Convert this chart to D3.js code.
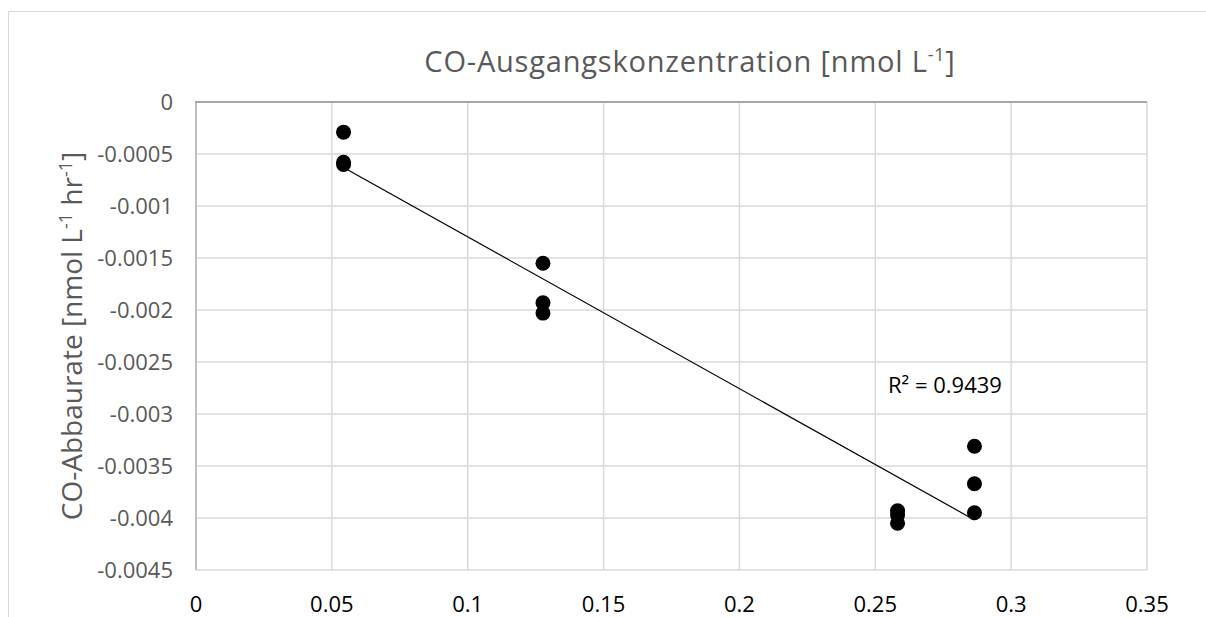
<!DOCTYPE html>
<html>
<head>
    <meta charset="utf-8">
    <title>CO-Abbaurate</title>
    <script src="https://d3js.org/d3.v7.min.js"></script>
    <style>
        body {
            margin: 0;
            background: #ffffff;
            font-family: 'Open Sans', 'Noto Sans', sans-serif;
        }
        svg text {
            font-family: 'Open Sans', 'Noto Sans', sans-serif;
        }
    </style>
</head>
<body>
    <div id="chart"></div>

    <script>
        // measured values (x = Ausgangskonzentration, y = Abbaurate)
        const xValues = [0.0543, 0.0543, 0.0543, 0.1277, 0.1277, 0.1277, 0.2582, 0.2582, 0.2582, 0.2865, 0.2865, 0.2865];
        const yValues = [-0.00029, -0.00058, -0.00060, -0.00155, -0.00193, -0.00203, -0.00393, -0.00397, -0.00405, -0.00331, -0.00367, -0.00395];
        const xTicks = [0, 0.05, 0.1, 0.15, 0.2, 0.25, 0.3, 0.35];
        const yTicks = [0, -0.0005, -0.001, -0.0015, -0.002, -0.0025, -0.003, -0.0035, -0.004, -0.0045];
        const r2Label = 'R² = 0.9439';

        const width = 1206;
        const height = 617;
        const margin = { top: 102, right: 59, bottom: 47, left: 196 };

        const svg = d3.select('#chart')
            .append('svg')
            .attr('width', width)
            .attr('height', height);

        // outer chart border
        svg.append('rect')
            .attr('x', 8.5)
            .attr('y', 11.5)
            .attr('width', 1220)
            .attr('height', 640)
            .attr('fill', 'none')
            .attr('stroke', '#d9d9d9')
            .attr('stroke-width', 1);

        const x = d3.scaleLinear()
            .domain([0, 0.35])
            .range([margin.left, width - margin.right]);

        const y = d3.scaleLinear()
            .domain([-0.0045, 0])
            .range([height - margin.bottom, margin.top]);

        // gridlines
        svg.append('g')
            .selectAll('line')
            .data(xTicks.slice(1))
            .enter().append('line')
            .attr('x1', d => x(d)).attr('x2', d => x(d))
            .attr('y1', y(0)).attr('y2', y(-0.0045))
            .attr('stroke', '#d9d9d9')
            .attr('stroke-width', 1.5);

        svg.append('g')
            .selectAll('line')
            .data(yTicks.slice(1))
            .enter().append('line')
            .attr('x1', x(0)).attr('x2', x(0.35))
            .attr('y1', d => y(d)).attr('y2', d => y(d))
            .attr('stroke', '#d9d9d9')
            .attr('stroke-width', 1.5);

        // axis lines
        svg.append('line')
            .attr('x1', x(0)).attr('x2', x(0))
            .attr('y1', y(0)).attr('y2', y(-0.0045))
            .attr('stroke', '#bfbfbf')
            .attr('stroke-width', 2);

        svg.append('line')
            .attr('x1', x(0) - 1).attr('x2', x(0.35))
            .attr('y1', y(0)).attr('y2', y(0))
            .attr('stroke', '#a6a6a6')
            .attr('stroke-width', 2);

        // tick labels
        svg.append('g')
            .selectAll('text')
            .data(yTicks)
            .enter().append('text')
            .attr('x', 173)
            .attr('y', d => y(d))
            .attr('dy', '0.36em')
            .attr('text-anchor', 'end')
            .attr('font-size', '22px')
            .attr('fill', '#595959')
            .text(d => d === 0 ? '0' : String(d));

        svg.append('g')
            .selectAll('text')
            .data(xTicks)
            .enter().append('text')
            .attr('x', d => x(d))
            .attr('y', 612)
            .attr('text-anchor', 'middle')
            .attr('font-size', '22px')
            .attr('fill', '#000000')
            .text(d => d === 0 ? '0' : String(d));

        // chart title (x axis title on top)
        const title = svg.append('text')
            .attr('x', 690)
            .attr('y', 72)
            .attr('text-anchor', 'middle')
            .attr('font-size', '29px')
            .attr('letter-spacing', '0.8px')
            .attr('fill', '#595959');
        title.append('tspan').text('CO-Ausgangskonzentration [nmol L');
        title.append('tspan').attr('dy', -11).attr('font-size', '18px').text('-1');
        title.append('tspan').attr('dy', 11).text(']');

        // y axis title
        const yTitle = svg.append('text')
            .attr('transform', 'translate(82,336) rotate(-90)')
            .attr('text-anchor', 'middle')
            .attr('font-size', '28px')
            .attr('fill', '#595959');
        yTitle.append('tspan').text('CO-Abbaurate [nmol L');
        yTitle.append('tspan').attr('dy', -10).attr('font-size', '18px').text('-1');
        yTitle.append('tspan').attr('dy', 10).text(' hr');
        yTitle.append('tspan').attr('dy', -10).attr('font-size', '18px').text('-1');
        yTitle.append('tspan').attr('dy', 10).text(']');

        // linear trendline from the data
        const n = xValues.length;
        const mx = d3.mean(xValues);
        const my = d3.mean(yValues);
        let sxy = 0, sxx = 0;
        for (let i = 0; i < n; i++) {
            sxy += (xValues[i] - mx) * (yValues[i] - my);
            sxx += (xValues[i] - mx) * (xValues[i] - mx);
        }
        const slope = sxy / sxx;
        const intercept = my - slope * mx;
        const x0 = d3.min(xValues), x1 = d3.max(xValues);

        svg.append('line')
            .attr('x1', x(x0)).attr('y1', y(intercept + slope * x0))
            .attr('x2', x(x1)).attr('y2', y(intercept + slope * x1))
            .attr('stroke', '#000000')
            .attr('stroke-width', 1.2);

        // points
        svg.append('g')
            .selectAll('circle')
            .data(xValues.map((v, i) => [v, yValues[i]]))
            .enter().append('circle')
            .attr('cx', d => x(d[0]))
            .attr('cy', d => y(d[1]))
            .attr('r', 7.5)
            .attr('fill', '#000000');

        // R² label
        svg.append('text')
            .attr('x', 888)
            .attr('y', 393)
            .attr('font-size', '22px')
            .attr('fill', '#000000')
            .text(r2Label);
    </script>
</body>
</html>
